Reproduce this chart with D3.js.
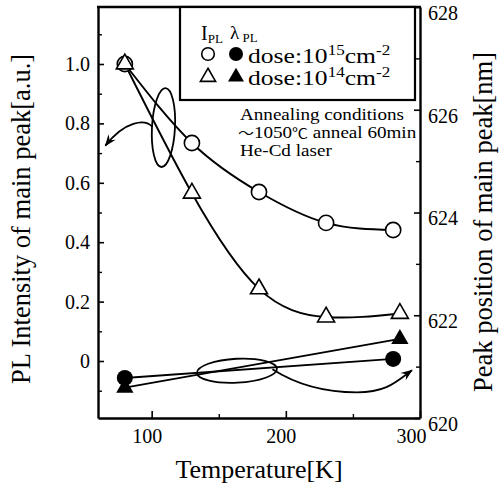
<!DOCTYPE html>
<html><head><meta charset="utf-8">
<script src="https://cdn.jsdelivr.net/npm/d3@7"></script>
<style>
body{margin:0;background:#fff}
text{font-family:"Liberation Serif","Times New Roman","Noto Sans CJK JP",serif;fill:#000}
</style>
</head><body>
<svg id="c" width="503" height="486"></svg>
<script>
// ---- data ----
const tempsDose15 = [80, 130, 180, 230, 280];
const intensityDose15 = [1.0, 0.734, 0.569, 0.465, 0.441];
const tempsDose14 = [80, 130, 180, 230, 285];
const intensityDose14 = [1.0, 0.565, 0.243, 0.148, 0.16];
const lambdaTempsDose15 = [80, 280];
const lambdaDose15 = [620.78, 621.15];
const lambdaTempsDose14 = [80, 285];
const lambdaDose14 = [620.59, 621.54];
const xTickValues = [100, 200, 300];
const xMinorTicks = [150, 250];
const leftTickValues = [0, 0.2, 0.4, 0.6, 0.8, 1.0];
const leftTickLabels = ["0", "0.2", "0.4", "0.6", "0.8", "1.0"];
const leftMinorTicks = [-0.1, 0.1, 0.3, 0.5, 0.7, 0.9, 1.1];
const rightTickValues = [620, 622, 624, 626, 628];
const rightMinorTicks = [621, 623, 625, 627];
// each annotation line as [text, isCJKsymbol] pieces
const annotationLines = [
  [["Annealing conditions", false]],
  [["～", true], ["1050", false], ["℃", true], [" anneal 60min", false]],
  [["He-Cd laser", false]]
];
const legendExponents = ["15", "14"];

// ---- layout ----
const L = 98, R = 420, T = 7, B = 418;
const svg = d3.select("#c");
const x = d3.scaleLinear().domain([60, 300]).range([L, R]);
const yL = d3.scaleLinear().domain([-0.1919, 1.1919]).range([B, T]);
const yR = d3.scaleLinear().domain([620, 628]).range([B, T]);

const zip = (a, b) => a.map((v, i) => [v, b[i]]);

const defs = svg.append("defs");
defs.append("clipPath").attr("id", "plot")
  .append("rect").attr("x", L).attr("y", T).attr("width", R - L - 1).attr("height", B - T);
defs.append("marker").attr("id", "arr").attr("viewBox", "-12 -6 14 12")
  .attr("refX", 0).attr("refY", 0).attr("markerWidth", 14).attr("markerHeight", 12)
  .attr("markerUnits", "userSpaceOnUse").attr("orient", "auto")
  .append("path").attr("d", "M1,0 L-11,-4.5 L-7,0 L-11,4.5 Z").attr("fill", "#000");

// ---- axes ----
const axStyle = g => {
  g.attr("font-family", null);
  g.select(".domain").attr("stroke-width", 2.4);
  g.selectAll(".tick line").attr("stroke-width", 1.6);
  g.selectAll("text").attr("font-size", 20);
};

svg.append("g").attr("transform", `translate(${L},0)`)
  .call(d3.axisLeft(yL).tickValues(leftTickValues).tickFormat((d, i) => leftTickLabels[i])
    .tickSizeInner(-6).tickSizeOuter(0).tickPadding(8))
  .call(axStyle);
svg.append("g").attr("transform", `translate(${L},0)`)
  .call(d3.axisLeft(yL).tickValues(leftMinorTicks).tickFormat("").tickSizeInner(-4).tickSizeOuter(0))
  .call(g => g.select(".domain").remove())
  .call(g => g.selectAll(".tick line").attr("stroke-width", 1.4));

svg.append("g").attr("transform", `translate(${R},0)`)
  .call(d3.axisRight(yR).tickValues(rightTickValues).tickFormat(d3.format("d"))
    .tickSizeInner(-6).tickSizeOuter(0).tickPadding(8))
  .call(axStyle)
  .call(g => g.selectAll("text").attr("y", 6));
svg.append("g").attr("transform", `translate(${R},0)`)
  .call(d3.axisRight(yR).tickValues(rightMinorTicks).tickFormat("").tickSizeInner(-4).tickSizeOuter(0))
  .call(g => g.select(".domain").remove())
  .call(g => g.selectAll(".tick line").attr("stroke-width", 1.4));

const xLabelShift = [-5, -5, -9];
svg.append("g").attr("transform", `translate(0,${B})`)
  .call(d3.axisBottom(x).tickValues(xTickValues).tickFormat(d3.format("d"))
    .tickSizeInner(-7).tickSizeOuter(0).tickPadding(11))
  .call(axStyle)
  .call(g => g.selectAll("text").attr("x", (d, i) => xLabelShift[i]));
svg.append("g").attr("transform", `translate(0,${B})`)
  .call(d3.axisBottom(x).tickValues(xMinorTicks).tickFormat("").tickSizeInner(-4).tickSizeOuter(0))
  .call(g => g.select(".domain").remove())
  .call(g => g.selectAll(".tick line").attr("stroke-width", 1.4));

// top frame
svg.append("line").attr("x1", L - 1).attr("x2", R + 1).attr("y1", T).attr("y2", T)
  .attr("stroke", "#000").attr("stroke-width", 2.4);

// axis titles
svg.append("text").attr("transform", "translate(30,219) rotate(-90)")
  .attr("text-anchor", "middle").attr("font-size", 26.5).text("PL Intensity of main peak[a.u.]");
svg.append("text").attr("transform", "translate(492,222) rotate(-90)")
  .attr("text-anchor", "middle").attr("font-size", 26.5).text("Peak position of main peak[nm]");
svg.append("text").attr("x", 259).attr("y", 478)
  .attr("text-anchor", "middle").attr("font-size", 26).text("Temperature[K]");

// ---- series ----
const curve = d3.line().x(d => x(d[0])).y(d => yL(d[1])).curve(d3.curveNatural);
const straightR = d3.line().x(d => x(d[0])).y(d => yR(d[1]));
const lw = 1.9;
svg.append("path").attr("d", curve(zip(tempsDose15, intensityDose15)))
  .attr("fill", "none").attr("stroke", "#000").attr("stroke-width", lw);
svg.append("path").attr("d", curve(zip(tempsDose14, intensityDose14)))
  .attr("fill", "none").attr("stroke", "#000").attr("stroke-width", lw);
svg.append("path").attr("d", straightR(zip(lambdaTempsDose15, lambdaDose15)))
  .attr("fill", "none").attr("stroke", "#000").attr("stroke-width", lw);
svg.append("path").attr("d", straightR(zip(lambdaTempsDose14, lambdaDose14)))
  .attr("fill", "none").attr("stroke", "#000").attr("stroke-width", lw);

const tri = d3.symbol().type(d3.symbolTriangle);
svg.append("g").selectAll("circle").data(zip(tempsDose15, intensityDose15)).join("circle")
  .attr("cx", d => x(d[0])).attr("cy", d => yL(d[1])).attr("r", 7.6)
  .attr("fill", "#fff").attr("stroke", "#000").attr("stroke-width", 1.6);
svg.append("g").selectAll("path").data(zip(tempsDose14, intensityDose14)).join("path")
  .attr("transform", d => `translate(${x(d[0])},${yL(d[1])})`).attr("d", tri.size(125)())
  .attr("fill", "#fff").attr("stroke", "#000").attr("stroke-width", 1.6);
svg.append("g").selectAll("path").data(zip(lambdaTempsDose14, lambdaDose14)).join("path")
  .attr("transform", d => `translate(${x(d[0])},${yR(d[1])})`).attr("d", tri.size(130)())
  .attr("fill", "#000");
svg.append("g").selectAll("circle").data(zip(lambdaTempsDose15, lambdaDose15)).join("circle")
  .attr("cx", d => x(d[0])).attr("cy", d => yR(d[1])).attr("r", 8).attr("fill", "#000");

// ---- annotations (ellipses + arrows) ----
const ann = svg.append("g").attr("fill", "none").attr("stroke", "#000").attr("stroke-width", 1.8);
ann.append("ellipse").attr("cx", 0).attr("cy", 0).attr("rx", 11.5).attr("ry", 39.5)
  .attr("transform", `translate(${x(108.8)},${yL(0.786)}) rotate(3)`);
ann.append("ellipse").attr("cx", 0).attr("cy", 0).attr("rx", 40).attr("ry", 12)
  .attr("transform", `translate(${x(163.6)},${yR(620.92)}) rotate(-3)`);
ann.append("path")
  .attr("d", `M${x(100.2)},${yL(0.79)} C${x(95)},${yL(0.815)} ${x(80)},${yL(0.81)} ${x(65.5)},${yL(0.725)}`)
  .attr("marker-end", "url(#arr)");
ann.append("path")
  .attr("d", `M${x(190)},${yR(620.95)} C${x(205)},${yR(620.7)} ${x(225)},${yR(620.5)} ${x(253)},${yR(620.5)} C${x(275)},${yR(620.5)} ${x(282)},${yR(620.7)} ${x(294)},${yR(620.93)}`)
  .attr("marker-end", "url(#arr)");

// annotation text (clipped by right axis)
const at = svg.append("g").attr("clip-path", "url(#plot)");
annotationLines.forEach((pieces, i) => {
  const t = at.append("text")
    .attr("transform", `translate(${i === 1 ? 238 : 240},${120 + i * 18}) scale(1.18,1)`)
    .attr("font-size", 16.2);
  pieces.forEach(([s, cjk]) => {
    const sp = t.append("tspan").text(s);
    if (cjk) sp.attr("font-size", 13.5).attr("font-family", '"Noto Sans CJK JP"');
  });
});

// ---- legend ----
const lg = svg.append("g");
lg.append("rect").attr("x", 180).attr("y", T).attr("width", 235).attr("height", 93)
  .attr("fill", "#fff").attr("stroke", "#000").attr("stroke-width", 2.2);
const t1 = lg.append("text").attr("x", 201).attr("y", 40).attr("font-size", 20);
t1.append("tspan").text("I");
t1.append("tspan").attr("font-size", 13).attr("dy", 3).text("PL");
const t2 = lg.append("text").attr("x", 230).attr("y", 39).attr("font-size", 19);
t2.append("tspan").text("λ");
t2.append("tspan").attr("font-size", 13).attr("dy", 3).text(" PL");
lg.append("circle").attr("cx", 208).attr("cy", 54).attr("r", 6.3)
  .attr("fill", "#fff").attr("stroke", "#000").attr("stroke-width", 1.6);
lg.append("circle").attr("cx", 236).attr("cy", 54).attr("r", 7).attr("fill", "#000");
lg.append("path").attr("transform", "translate(208,77)").attr("d", tri.size(100)())
  .attr("fill", "#fff").attr("stroke", "#000").attr("stroke-width", 1.6);
lg.append("path").attr("transform", "translate(236,77)").attr("d", tri.size(110)())
  .attr("fill", "#000");
legendExponents.forEach((e, i) => {
  const t = lg.append("text").attr("transform", `translate(248,${63 + i * 22}) scale(1.22,1)`)
    .attr("font-size", 21);
  t.append("tspan").text("dose:10");
  t.append("tspan").attr("font-size", 14).attr("dy", -8).text(e);
  t.append("tspan").attr("dy", 8).text("cm");
  t.append("tspan").attr("font-size", 14).attr("dy", -8).text("-2");
});
</script>
</body></html>
